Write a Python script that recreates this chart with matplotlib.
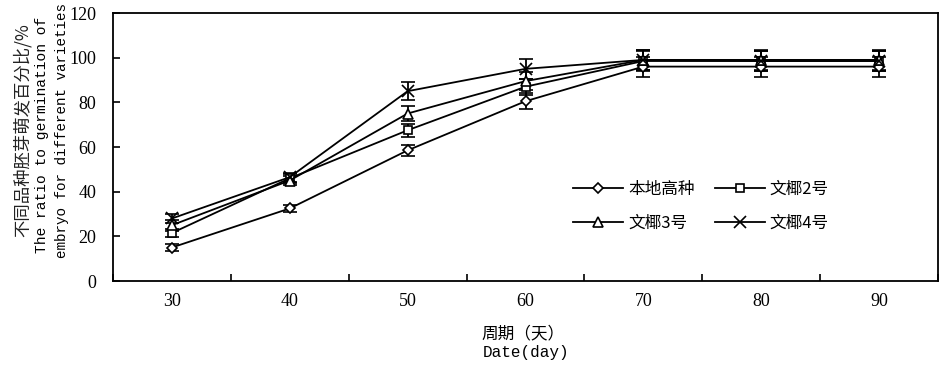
import matplotlib
matplotlib.use("Agg")
import matplotlib.pyplot as plt
from matplotlib.lines import Line2D
import numpy as np

days = [30, 40, 50, 60, 70, 80, 90]
series_names = ["本地高种", "文椰2号", "文椰3号", "文椰4号"]
v_local = [15, 32.5, 58.5, 80.5, 96, 96, 96]
v_w2 = [21.5, 46, 67.5, 87, 98.5, 98.5, 98.5]
v_w3 = [25, 45, 75, 89.5, 99, 99, 99]
v_w4 = [28, 46.5, 85, 95, 99, 98.5, 98.5]
e_local = [1.5, 1.5, 2.5, 3.5, 4.5, 4.5, 4.5]
e_w2 = [2, 2, 3, 3.5, 4.5, 4.5, 4.5]
e_w3 = [2.5, 2, 3.5, 4, 4.5, 4.5, 4.5]
e_w4 = [2, 2, 4, 4.5, 4.5, 4.5, 4.5]

values = [v_local, v_w2, v_w3, v_w4]
errors = [e_local, e_w2, e_w3, e_w4]
markers = ["D", "s", "^", "x"]
msizes = [5, 6, 7, 8]

cjk = ["Noto Sans CJK SC", "DejaVu Sans"]
mono = ["Liberation Mono", "Noto Sans CJK SC"]
serif = ["Liberation Serif", "DejaVu Serif"]

fig = plt.figure(figsize=(9.4, 3.66), dpi=100)
ax = fig.add_axes([113/940, 1-281/366, (938-113)/940, (281-13)/366])

x = np.arange(len(days))
handles = []
for name, v, e, m, ms in zip(series_names, values, errors, markers, msizes):
    ax.errorbar(x, v, yerr=e, color="black", lw=1.3, marker=m, ms=ms,
                mfc="white", mec="black", mew=1.2, capsize=5, capthick=1.5,
                elinewidth=1.3)
    handles.append(Line2D([], [], color="black", lw=1.3, marker=m, ms=ms,
                          mfc="white", mec="black", mew=1.2, label=name))

ax.set_xlim(-0.5, len(days) - 0.5)
ax.set_ylim(0, 120)
ax.set_yticks(range(0, 121, 20))
ax.set_xticks(np.arange(-0.5, len(days), 1), minor=False)
ax.set_xticklabels([])
ax.set_xticks(x, minor=True)
ax.set_xticklabels([str(d) for d in days], minor=True, family=serif, fontsize=13)
ax.tick_params(axis="x", which="minor", length=0, pad=9)
ax.tick_params(axis="x", which="major", direction="in", length=5, width=1.2)
ax.tick_params(axis="y", direction="in", length=5, width=1.2, labelsize=13, pad=12)
for lab in ax.get_yticklabels():
    lab.set_family(serif)
for s in ax.spines.values():
    s.set_linewidth(1.3)

order = [0, 2, 1, 3]
leg = ax.legend([handles[i] for i in order], [series_names[i] for i in order],
                ncol=2, frameon=False, loc="upper left",
                bbox_to_anchor=(445/825, (281-166)/268), prop={"family": cjk, "size": 12},
                handlelength=3, columnspacing=1.2, labelspacing=1.0, handletextpad=0.3)

fig.text(22/940, 1-130/366, "不同品种胚芽萌发百分比/%", rotation=90, ha="center", va="center",
         family=cjk, fontsize=12.5, color="#222222")
fig.text(42/940, 1-135/366, "The ratio to germination of", rotation=90, ha="center", va="center",
         family=mono, fontsize=10.5)
fig.text(62/940, 1-131/366, "embryo for different varieties", rotation=90, ha="center", va="center",
         family=mono, fontsize=10.3)
fig.text(523/940, 1-334/366, "周期（天）", ha="center", va="center", family=cjk, fontsize=12)
fig.text(526/940, 1-353/366, "Date(day)", ha="center", va="center", family=mono, fontsize=11.5)

fig.savefig("out.png", dpi=100)
